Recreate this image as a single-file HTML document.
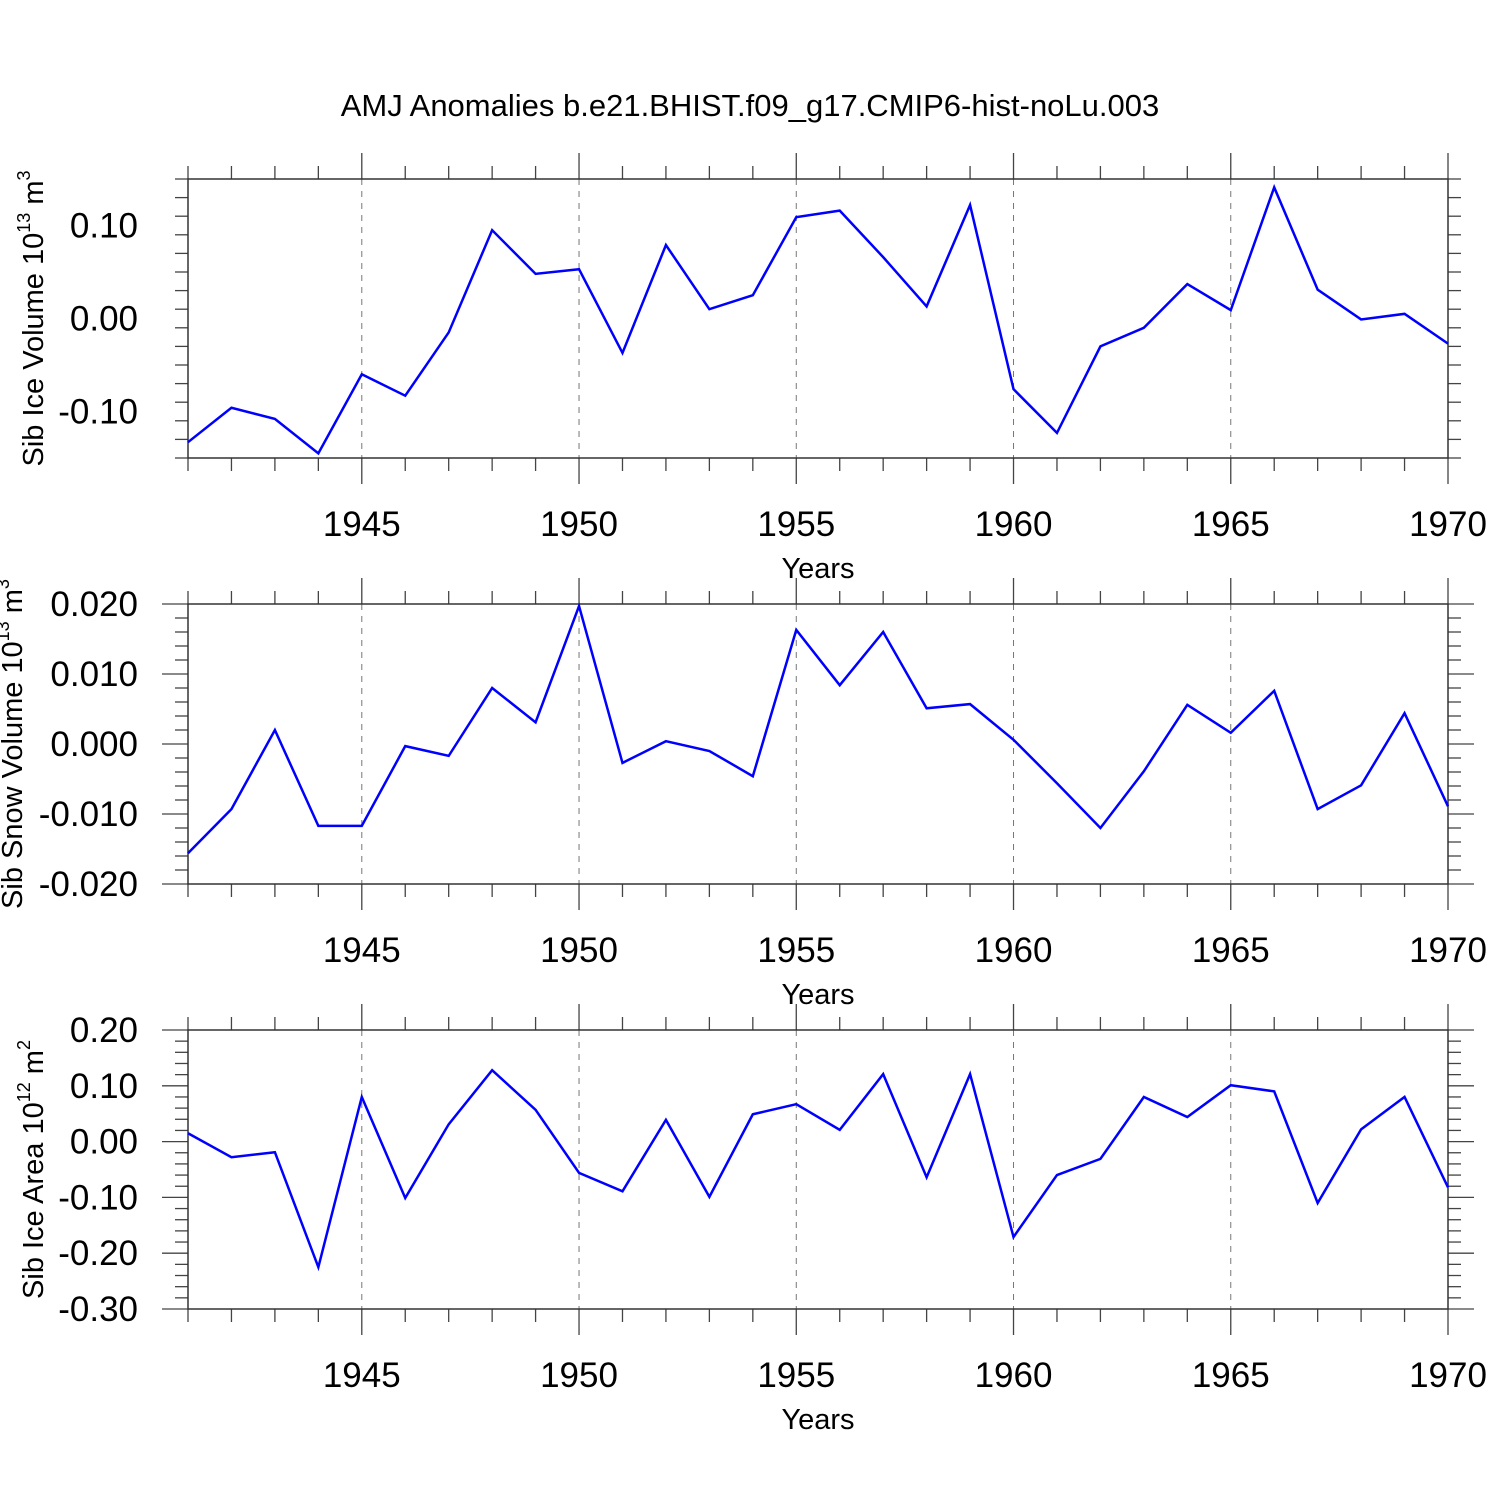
<!DOCTYPE html>
<html><head><meta charset="utf-8"><style>
body{margin:0;background:#fff}
svg{display:block;font-family:"Liberation Sans",sans-serif}
</style></head><body>
<svg id="c" width="1500" height="1500">
<text x="750" y="116" text-anchor="middle" font-size="31">AMJ Anomalies b.e21.BHIST.f09_g17.CMIP6-hist-noLu.003</text>
</svg>
<script>
const years=[1941,1942,1943,1944,1945,1946,1947,1948,1949,1950,1951,1952,1953,1954,1955,1956,1957,1958,1959,1960,1961,1962,1963,1964,1965,1966,1967,1968,1969,1970];
const iceVolume=[-0.133,-0.096,-0.108,-0.145,-0.060,-0.083,-0.015,0.095,0.048,0.053,-0.037,0.079,0.010,0.025,0.109,0.116,0.066,0.013,0.122,-0.076,-0.123,-0.030,-0.010,0.037,0.009,0.141,0.031,-0.001,0.005,-0.027];
const snowVolume=[-0.0156,-0.0093,0.0020,-0.0117,-0.0117,-0.0003,-0.0017,0.0080,0.0031,0.0197,-0.0027,0.0004,-0.0010,-0.0046,0.0163,0.0084,0.0160,0.0051,0.0057,0.0006,-0.0056,-0.0120,-0.0039,0.0056,0.0016,0.0076,-0.0093,-0.0059,0.0044,-0.0089];
const iceArea=[0.015,-0.028,-0.019,-0.225,0.080,-0.101,0.031,0.128,0.057,-0.056,-0.089,0.039,-0.099,0.049,0.067,0.021,0.121,-0.064,0.121,-0.171,-0.060,-0.031,0.080,0.044,0.101,0.090,-0.110,0.022,0.080,-0.082];
const xTicks=[1945,1950,1955,1960,1965,1970];
const ticks1=["-0.10","0.00","0.10"];
const ticks2=["-0.020","-0.010","0.000","0.010","0.020"];
const ticks3=["-0.30","-0.20","-0.10","0.00","0.10","0.20"];
const NS="http://www.w3.org/2000/svg";
const svg=document.getElementById('c');
const L=188,R=1448;
function mk(t,a,p){const e=document.createElementNS(NS,t);for(const k in a)e.setAttribute(k,a[k]);(p||svg).appendChild(e);return e;}
function xs(y){return L+(y-1941)*(R-L)/29;}
function panel(id,top,bot,ymin,ymax,ticks,minorStep,data,title,sup,unit,titleX){
  const g=mk('g',{});
  
  
  const ys=v=>bot-(v-ymin)/(ymax-ymin)*(bot-top);
  xTicks.forEach(y=>{if(y<1970){const l=mk('line',{x1:xs(y),x2:xs(y),y1:top,y2:bot,stroke:'#777','stroke-width':1,'stroke-dasharray':'6,6'},g);}});
  for(let y=1941;y<=1970;y++){const maj=xTicks.includes(y);const len=maj?26:13;const x=xs(y);
    mk('line',{x1:x,x2:x,y1:top-len,y2:top,stroke:'#444','stroke-width':1.3},g);
    mk('line',{x1:x,x2:x,y1:bot,y2:bot+len,stroke:'#444','stroke-width':1.3},g);}
  xTicks.forEach(y=>{const t=mk('text',{x:xs(y),y:bot+78,'text-anchor':'middle','font-size':35},g);t.textContent=y;});
  const xt=mk('text',{x:818,y:bot+120,'text-anchor':'middle','font-size':29},g);xt.textContent='Years';
  
  const n=Math.round((ymax-ymin)/minorStep);
  for(let i=0;i<=n;i++){const v=ymin+i*minorStep;const y=ys(v);
    const maj=ticks.some(s=>Math.abs(parseFloat(s)-v)<minorStep/10);const len=maj?26:13;
    mk('line',{x1:L-len,x2:L,y1:y,y2:y,stroke:'#444','stroke-width':1.3},g);
    mk('line',{x1:R,x2:R+len,y1:y,y2:y,stroke:'#444','stroke-width':1.3},g);}
  ticks.forEach(s=>{const t=mk('text',{x:L-50,y:ys(parseFloat(s))+12,'text-anchor':'end','font-size':35},g);t.textContent=s;});
  mk('rect',{x:L,y:top,width:R-L,height:bot-top,fill:'none',stroke:'#333','stroke-width':1.5},g);
  const yt=mk('text',{transform:`translate(${titleX},${(top+bot)/2}) rotate(-90)`,'text-anchor':'middle','font-size':29},g);
  
  yt.innerHTML=`${title} 10<tspan dy="-13" font-size="18">${sup}</tspan><tspan dy="13"> m</tspan><tspan dy="-13" font-size="18">${unit}</tspan>`;
  const pts=data.map((v,i)=>xs(years[i])+','+ys(v)).join(' ');
  const pl=mk('polyline',{points:pts,fill:'none',stroke:'#0000ff','stroke-width':2.5,'stroke-linejoin':'miter'},g);
  
}
panel('ice-volume-panel',179,458,-0.15,0.15,ticks1,0.02,iceVolume,'Sib Ice Volume','13','3',43);
panel('snow-volume-panel',604,884,-0.02,0.02,ticks2,0.002,snowVolume,'Sib Snow Volume','13','3',22);
panel('ice-area-panel',1030,1309,-0.30,0.20,ticks3,0.02,iceArea,'Sib Ice Area','12','2',43);
</script>
</body></html>
